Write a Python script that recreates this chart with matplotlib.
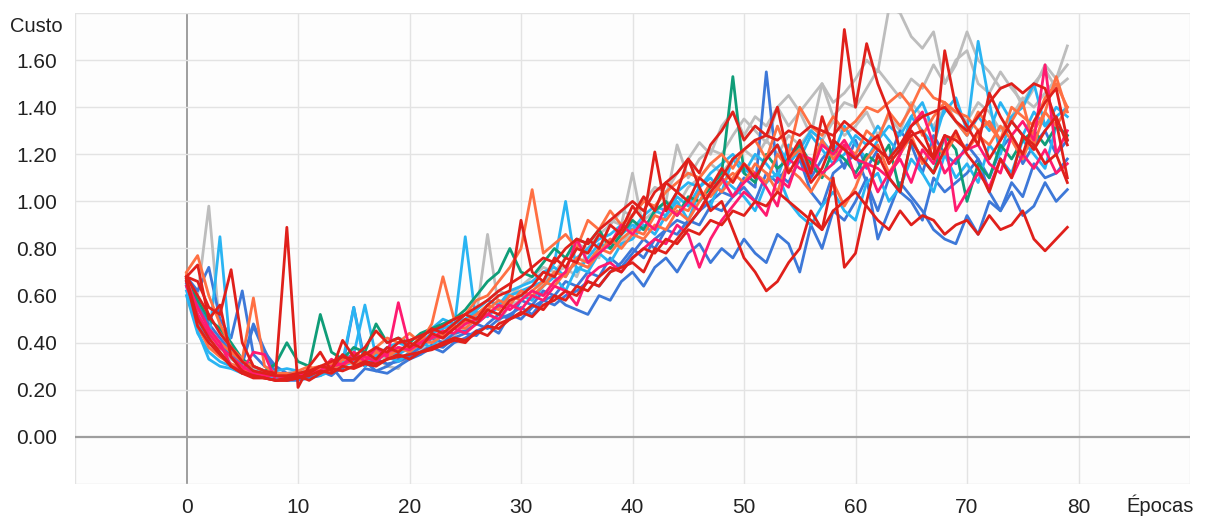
import numpy as np
import matplotlib

matplotlib.use("Agg")
import matplotlib.pyplot as plt

# cost per epoch, in hundredths (epochs 0..79)
epochs = list(range(80))

gray_a = [67, 60, 98, 45, 36, 31, 29, 27, 26, 27,
          28, 26, 29, 30, 31, 33, 32, 34, 30, 29,
          36, 38, 41, 40, 43, 47, 52, 86, 55, 60,
          62, 58, 66, 70, 72, 68, 80, 76, 92, 90,
          112, 88, 95, 100, 124, 110, 118, 122, 120, 128,
          135, 130, 125, 140, 132, 138, 128, 150, 142, 146,
          152, 160, 155, 182, 180, 170, 165, 172, 150, 158,
          172, 160, 155, 148, 150, 140, 148, 158, 152, 166]
gray_b = [66, 52, 44, 38, 33, 30, 28, 27, 27, 26,
          27, 28, 30, 29, 32, 31, 33, 35, 33, 36,
          37, 40, 42, 44, 46, 50, 54, 58, 62, 60,
          64, 68, 72, 70, 76, 82, 80, 86, 90, 96,
          94, 100, 106, 104, 112, 118, 125, 120, 132, 138,
          128, 136, 132, 140, 145, 138, 144, 150, 136, 142,
          140, 148, 156, 150, 144, 152, 148, 158, 150, 160,
          164, 150, 146, 155, 148, 142, 150, 156, 148, 152]
gray_c = [64, 50, 42, 36, 31, 29, 27, 26, 25, 25,
          25, 26, 27, 28, 29, 30, 32, 31, 33, 34,
          35, 37, 39, 41, 44, 47, 50, 53, 49, 56,
          58, 62, 60, 66, 70, 74, 72, 80, 84, 82,
          88, 92, 96, 100, 98, 106, 110, 116, 112, 118,
          122, 118, 126, 120, 128, 124, 130, 126, 134, 128,
          132, 138, 128, 136, 130, 142, 136, 132, 140, 138,
          134, 142, 138, 130, 136, 144, 140, 146, 152, 158]
blue_a = [68, 62, 72, 50, 42, 62, 35, 30, 27, 24,
          24, 25, 26, 30, 24, 24, 29, 28, 27, 30,
          33, 35, 38, 36, 40, 42, 45, 47, 44, 52,
          50, 55, 58, 56, 60, 62, 66, 64, 70, 74,
          80, 76, 84, 88, 92, 90, 96, 100, 104, 102,
          110, 106, 155, 112, 108, 118, 104, 98, 112, 116,
          120, 108, 96, 110, 104, 100, 92, 110, 104, 108,
          112, 118, 104, 96, 108, 102, 116, 110, 112, 118]
blue_b = [66, 56, 48, 42, 36, 31, 47, 36, 30, 27,
          27, 26, 28, 26, 30, 55, 32, 28, 30, 33,
          35, 38, 42, 40, 44, 45, 48, 46, 50, 52,
          55, 52, 58, 60, 56, 54, 52, 60, 58, 66,
          70, 64, 72, 76, 70, 78, 82, 74, 80, 76,
          84, 78, 74, 86, 82, 70, 90, 80, 96, 92,
          100, 110, 84, 96, 108, 102, 96, 88, 84, 82,
          94, 86, 100, 96, 104, 94, 98, 108, 100, 105]
blue_c = [65, 55, 46, 40, 34, 32, 48, 37, 27, 26,
          26, 25, 28, 27, 29, 35, 30, 33, 31, 32,
          34, 36, 39, 38, 42, 44, 43, 48, 52, 50,
          58, 56, 62, 60, 66, 64, 70, 68, 76, 72,
          78, 84, 80, 88, 86, 92, 90, 98, 96, 102,
          106, 100, 112, 108, 116, 122, 110, 118, 124, 114,
          126, 114, 122, 118, 130, 124, 112, 128, 120, 116,
          124, 118, 110, 122, 128, 116, 124, 130, 120, 126]
sky_a = [62, 48, 40, 85, 34, 30, 28, 27, 26, 25,
         25, 27, 26, 28, 30, 32, 34, 33, 36, 35,
         38, 40, 44, 46, 48, 50, 53, 51, 56, 60,
         62, 64, 66, 74, 100, 70, 76, 82, 80, 86,
         90, 88, 96, 94, 102, 98, 106, 110, 104, 118,
         112, 120, 116, 110, 124, 118, 128, 122, 116, 120,
         128, 124, 132, 126, 120, 136, 142, 130, 138, 144,
         130, 168, 142, 120, 136, 140, 150, 132, 140, 136]
sky_b = [64, 45, 33, 30, 29, 27, 28, 26, 25, 26,
         27, 26, 30, 29, 32, 55, 30, 36, 34, 32,
         36, 40, 38, 44, 46, 85, 48, 52, 55, 58,
         60, 58, 64, 68, 62, 72, 70, 78, 74, 82,
         84, 90, 86, 94, 100, 92, 104, 98, 110, 106,
         102, 96, 108, 112, 100, 94, 90, 98, 104, 96,
         92, 108, 112, 100, 106, 118, 112, 104, 120, 110,
         116, 108, 124, 118, 112, 126, 120, 114, 132, 128]
sky_c = [60, 44, 36, 32, 30, 29, 27, 26, 28, 29,
         28, 27, 29, 31, 33, 35, 56, 34, 38, 40,
         38, 42, 46, 50, 48, 52, 54, 58, 56, 62,
         64, 66, 70, 72, 68, 76, 80, 84, 86, 90,
         88, 94, 98, 96, 104, 108, 106, 112, 116, 120,
         114, 110, 118, 124, 116, 122, 130, 126, 120, 132,
         124, 118, 126, 132, 128, 136, 130, 124, 140, 134,
         128, 136, 130, 142, 134, 128, 138, 132, 136, 140]
teal_a = [67, 58, 50, 46, 40, 33, 30, 28, 31, 40,
          32, 30, 52, 36, 33, 38, 36, 48, 40, 42,
          40, 44, 46, 48, 50, 54, 60, 66, 70, 80,
          70, 68, 74, 80, 76, 84, 82, 88, 80, 86,
          92, 88, 96, 100, 94, 102, 100, 106, 112, 153,
          112, 108, 120, 114, 118, 124, 116, 110, 122, 118,
          112, 120, 116, 124, 104, 126, 118, 112, 128, 122,
          100, 116, 110, 124, 118, 126, 130, 124, 132, 128]
orange_a = [70, 77, 60, 48, 38, 33, 59, 30, 27, 26,
            28, 30, 27, 32, 30, 36, 33, 38, 42, 40,
            44, 40, 48, 68, 50, 52, 58, 60, 66, 72,
            80, 105, 78, 82, 86, 80, 92, 88, 96, 90,
            94, 100, 98, 104, 108, 112, 110, 116, 120, 114,
            122, 126, 118, 132, 120, 140, 132, 128, 136, 130,
            134, 140, 138, 142, 146, 140, 150, 144, 142, 138,
            136, 130, 134, 126, 140, 136, 132, 144, 150, 140]
orange_b = [68, 52, 44, 40, 36, 32, 30, 28, 27, 27,
            26, 29, 30, 27, 33, 31, 34, 37, 35, 38,
            36, 40, 42, 44, 46, 49, 52, 56, 54, 60,
            58, 62, 66, 64, 70, 74, 72, 78, 84, 80,
            86, 84, 90, 88, 96, 92, 100, 108, 104, 110,
            116, 112, 108, 120, 114, 110, 104, 112, 108, 98,
            106, 118, 124, 112, 120, 128, 116, 124, 120, 128,
            122, 128, 124, 132, 126, 118, 130, 138, 153, 138]
orange_c = [69, 47, 38, 34, 31, 29, 27, 26, 26, 25,
            27, 28, 29, 31, 30, 33, 32, 36, 34, 37,
            38, 41, 40, 43, 47, 46, 50, 54, 58, 56,
            62, 60, 64, 70, 68, 76, 74, 80, 78, 84,
            88, 86, 94, 92, 98, 96, 104, 102, 108, 112,
            108, 116, 112, 104, 118, 122, 114, 126, 118, 124,
            120, 130, 126, 138, 132, 140, 128, 136, 142, 134,
            128, 138, 132, 126, 134, 142, 124, 138, 132, 140]
pink_a = [66, 55, 46, 40, 30, 28, 36, 35, 24, 25,
          26, 27, 28, 33, 30, 36, 32, 38, 34, 57,
          38, 40, 42, 45, 44, 48, 50, 52, 56, 54,
          58, 62, 60, 66, 70, 84, 74, 78, 82, 90,
          86, 92, 88, 98, 94, 100, 96, 104, 110, 102,
          108, 112, 106, 98, 118, 114, 112, 124, 120, 126,
          118, 116, 114, 110, 120, 132, 138, 124, 112, 118,
          122, 124, 116, 112, 128, 134, 126, 158, 120, 130]
pink_b = [64, 52, 44, 38, 34, 30, 27, 26, 26, 25,
          26, 28, 27, 30, 31, 33, 34, 32, 36, 38,
          37, 40, 43, 42, 46, 44, 48, 52, 50, 56,
          54, 60, 58, 64, 62, 56, 68, 72, 74, 70,
          76, 80, 84, 82, 90, 86, 72, 84, 92, 98,
          104, 100, 94, 110, 106, 120, 118, 112, 116, 124,
          110, 116, 104, 112, 118, 108, 122, 116, 128, 96,
          104, 112, 106, 118, 110, 120, 114, 122, 112, 116]
red_a = [68, 66, 55, 52, 71, 40, 30, 28, 27, 89,
         21, 30, 36, 28, 41, 34, 38, 45, 40, 42,
         38, 42, 46, 44, 48, 52, 50, 56, 60, 62,
         92, 70, 66, 76, 72, 80, 78, 86, 82, 88,
         98, 92, 121, 96, 104, 100, 110, 106, 114, 108,
         116, 110, 118, 124, 112, 120, 108, 114, 126, 122,
         118, 124, 128, 116, 122, 130, 124, 118, 128, 126,
         122, 130, 118, 126, 134, 128, 122, 130, 136, 124]
red_b = [68, 73, 50, 56, 34, 28, 26, 25, 24, 24,
         25, 27, 30, 29, 35, 31, 36, 33, 38, 36,
         40, 38, 44, 42, 46, 50, 48, 54, 52, 58,
         60, 64, 70, 68, 76, 74, 84, 80, 90, 86,
         94, 102, 96, 108, 104, 118, 112, 124, 130, 138,
         126, 132, 128, 140, 118, 126, 112, 136, 122, 173,
         140, 167, 150, 138, 122, 128, 130, 118, 164, 140,
         132, 124, 146, 136, 128, 120, 134, 142, 148, 126]
red_c = [67, 50, 42, 36, 30, 27, 25, 25, 24, 24,
         25, 26, 28, 27, 30, 29, 31, 30, 33, 34,
         35, 36, 38, 40, 42, 41, 44, 47, 46, 50,
         52, 56, 54, 60, 58, 64, 62, 68, 72, 70,
         76, 80, 78, 84, 82, 88, 86, 92, 90, 96,
         94, 100, 98, 104, 100, 96, 92, 88, 96, 100,
         104, 98, 92, 88, 96, 90, 94, 92, 86, 90,
         92, 86, 94, 88, 90, 96, 84, 79, 84, 89]
red_d = [66, 47, 40, 35, 30, 27, 26, 25, 24, 25,
         26, 24, 27, 29, 28, 30, 32, 31, 33, 35,
         33, 36, 37, 39, 41, 40, 45, 43, 48, 50,
         53, 51, 56, 58, 62, 60, 66, 64, 70, 72,
         74, 70, 80, 78, 84, 90, 96, 104, 110, 118,
         122, 126, 128, 126, 130, 128, 132, 130, 128, 134,
         130, 126, 122, 118, 124, 132, 136, 138, 140, 134,
         130, 136, 142, 148, 150, 146, 150, 148, 134, 110]
red_e = [68, 60, 52, 44, 38, 32, 28, 27, 26, 26,
         27, 28, 30, 32, 34, 33, 35, 38, 36, 40,
         41, 43, 45, 47, 50, 52, 55, 58, 62, 65,
         68, 72, 76, 74, 80, 84, 82, 88, 92, 96,
         100, 96, 104, 108, 112, 118, 106, 96, 100, 88,
         76, 70, 62, 66, 74, 80, 96, 88, 110, 72,
         78, 100, 120, 110, 104, 126, 118, 112, 122, 130,
         120, 114, 104, 118, 110, 128, 124, 116, 120, 108]

GRAY = "#bdbdbd"
BLUE = "#3d78d8"
SKY = "#2ab4f2"
TEAL = "#0f9d78"
ORANGE = "#ff7043"
PINK = "#ff1a70"
RED = "#e0201b"

series = [
    (gray_a, GRAY), (gray_b, GRAY), (gray_c, GRAY),
    (blue_a, BLUE), (blue_b, BLUE), (blue_c, BLUE),
    (sky_a, SKY), (sky_b, SKY), (sky_c, SKY),
    (teal_a, TEAL),
    (orange_a, ORANGE), (orange_b, ORANGE), (orange_c, ORANGE),
    (pink_a, PINK), (pink_b, PINK),
    (red_c, RED), (red_e, RED), (red_d, RED), (red_a, RED), (red_b, RED),
]

plt.rcParams["font.family"] = ["Liberation Sans", "DejaVu Sans"]

fig = plt.figure(figsize=(12.05, 5.16), dpi=100)
ax = fig.add_axes([75 / 1205, 1 - 484 / 516, 1115 / 1205, 471 / 516])
ax.set_facecolor("#fdfdfd")

for values, color in series:
    ax.plot(epochs, np.array(values) / 100, color=color, lw=2.0, zorder=3)

ax.set_xlim(-10, 90)
ax.set_ylim(-0.2, 1.8)

xgrid = np.arange(-10, 91, 10)
ygrid = np.round(np.arange(-0.2, 1.81, 0.2), 2)
for x in xgrid:
    ax.axvline(x, color="#9e9e9e" if x == 0 else "#e3e3e3", lw=1.4 if x == 0 else 1.0, zorder=1)
for y in ygrid:
    ax.axhline(y, color="#9e9e9e" if y == 0 else "#e3e3e3", lw=1.6 if y == 0 else 1.0, zorder=1)

ax.set_xticks([t for t in xgrid if 0 <= t <= 80])
ax.set_xticklabels([str(t) for t in xgrid if 0 <= t <= 80])
ax.set_yticks([t for t in ygrid if 0 <= t <= 1.6])
ax.set_yticklabels([f"{t:.2f}" for t in ygrid if 0 <= t <= 1.6])
ax.tick_params(length=0, labelsize=15, colors="#222222")
ax.tick_params(axis="y", pad=13)
ax.tick_params(axis="x", pad=10)
for side in ax.spines.values():
    side.set_visible(False)

fig.text(10 / 1205, 1 - 27 / 516, "Custo", fontsize=14.5, color="#222222", va="center", ha="left")
fig.text(1194 / 1205, 1 - 505 / 516, "Épocas", fontsize=14.5, color="#222222", va="center", ha="right")

fig.savefig("out.png", dpi=100, facecolor="white")
